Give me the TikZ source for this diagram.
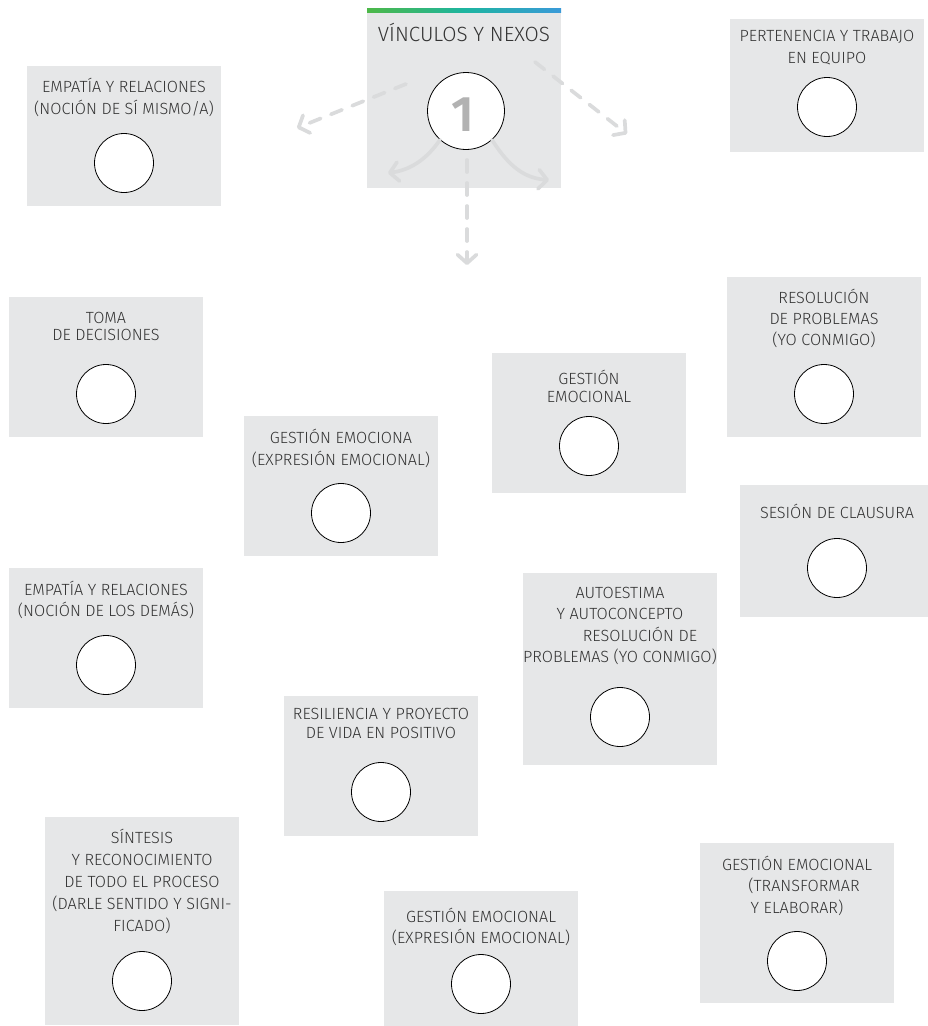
\documentclass[tikz,border=0pt]{standalone}
\usepackage{fontspec}
\setmainfont{Fira Sans}[UprightFont=* Light, BoldFont=* SemiBold]
\usetikzlibrary{arrows.meta,calc}
\definecolor{boxgray}{HTML}{E6E7E8}
\definecolor{txt}{HTML}{333333}
\definecolor{arr}{HTML}{DADBDC}
\definecolor{gGreen}{HTML}{4DB848}
\definecolor{gTeal}{HTML}{1DB5A0}
\definecolor{gBlue}{HTML}{3A9AD9}
\tikzset{
  panel/.style={fill=boxgray, draw=none, inner sep=0pt, anchor=north west, minimum width=194pt},
  lbl/.style={text=txt, align=center, anchor=north, inner sep=0pt, font=\fontsize{16.2}{21.5}\selectfont,
    execute at begin node=\vphantom{Í}},
  dot/.style={circle, draw=black, line width=0.8pt, fill=white, minimum size=59pt, inner sep=0pt},
  arrline/.style={draw=arr, line width=3.7pt, line cap=round, -{Straight Barb[length=8.5pt,width=19pt,line cap=round,line join=round]}},
  dashedarr/.style={arrline, dash pattern=on 12pt off 11pt},
}
\begin{document}
\begin{tikzpicture}[x=1pt,y=-1pt]
\useasboundingbox (0,0) rectangle (928,1026);
% panels
\node[panel, minimum height=176pt] (b0) at (367,12) {};
\shade[left color=gGreen, right color=gBlue, middle color=gTeal] (367,8) rectangle (561,12.5);
\node[panel, minimum height=140pt] (b1) at (27,66) {};
\node[panel, minimum height=133pt] (b2) at (730,19) {};
\node[panel, minimum height=140pt] (b3) at (9,297) {};
\node[panel, minimum height=160pt] (b4) at (727,277) {};
\node[panel, minimum height=140pt] (b5) at (492,353) {};
\node[panel, minimum height=140pt] (b6) at (244,416) {};
\node[panel, minimum height=132pt, minimum width=188pt] (b7) at (740,485) {};
\node[panel, minimum height=140pt] (b8) at (9,568) {};
\node[panel, minimum height=192pt] (b9) at (523,573) {};
\node[panel, minimum height=140pt] (b10) at (284,696) {};
\node[panel, minimum height=208pt] (b11) at (45,817) {};
\node[panel, minimum height=135pt] (b12) at (384,891) {};
\node[panel, minimum height=160pt] (b13) at (700,843) {};
% labels
\node[lbl, font=\fontsize{20.6}{24}\selectfont] (t0) at (464,23) {VÍNCULOS Y NEXOS};
\node[lbl] (t1) at (124,78) {EMPATÍA Y RELACIONES\\(NOCIÓN DE SÍ MISMO/A)};
\node[lbl] (t2) at (827,30.5) {PERTENENCIA Y TRABAJO\\EN EQUIPO};
\node[lbl, font=\fontsize{16.2}{16.5}\selectfont] (t3) at (106,312.5) {TOMA\\DE DECISIONES};
\node[lbl, font=\fontsize{16.2}{21}\selectfont] (t4) at (824,289) {RESOLUCIÓN\\DE PROBLEMAS\\(YO CONMIGO)};
\node[lbl, font=\fontsize{16.2}{18.5}\selectfont] (t5) at (589,369.5) {GESTIÓN\\EMOCIONAL};
\node[lbl, font=\fontsize{16.2}{22}\selectfont] (t6) at (341,428.5) {GESTIÓN EMOCIONA\\(EXPRESIÓN EMOCIONAL)};
\node[lbl] (t7) at (837,504) {SESIÓN DE CLAUSURA};
\node[lbl, font=\fontsize{16.2}{21}\selectfont] (t8) at (106,580.5) {EMPATÍA Y RELACIONES\\(NOCIÓN DE LOS DEMÁS)};
\node[lbl] (t9) at (620,587) {AUTOESTIMA\\Y AUTOCONCEPTO\\\hspace*{40pt}RESOLUCIÓN DE\\PROBLEMAS (YO CONMIGO)};
\node[lbl, font=\fontsize{16.2}{19}\selectfont] (t10) at (381,708.5) {RESILIENCIA Y PROYECTO\\DE VIDA EN POSITIVO};
\node[lbl, font=\fontsize{16.2}{22}\selectfont] (t11) at (142,828.5) {SÍNTESIS\\Y RECONOCIMIENTO\\DE TODO EL PROCESO\\(DARLE SENTIDO Y SIGNI-\\FICADO)};
\node[lbl, font=\fontsize{16.2}{21}\selectfont] (t12) at (481,907.5) {GESTIÓN EMOCIONAL\\(EXPRESIÓN EMOCIONAL)};
\node[lbl] (t13) at (797,855.5) {GESTIÓN EMOCIONAL\\\hspace*{14pt}(TRANSFORMAR\\Y ELABORAR)};
% circles
\node[dot, minimum size=77pt] (c0) at (466,111) {};
\node[text=black!30, font=\fontsize{50}{50}\bfseries\selectfont, inner sep=0pt] (n1) at (463,115) {1};
\node[dot] (c1) at (124,163) {};
\node[dot] (c2) at (827,107) {};
\node[dot] (c3) at (106,394) {};
\node[dot] (c4) at (824,394) {};
\node[dot] (c5) at (589,446) {};
\node[dot] (c6) at (341,513) {};
\node[dot] (c7) at (837,568) {};
\node[dot] (c8) at (106,665) {};
\node[dot] (c9) at (620,717) {};
\node[dot] (c10) at (381,792) {};
\node[dot] (c11) at (142,981) {};
\node[dot] (c12) at (481,984) {};
\node[dot] (c13) at (797,961) {};
% arrows
\coordinate (sL) at (406,84);
\coordinate (eL) at (297,128);
\coordinate (sR) at (535,62);
\coordinate (eR) at (627,134);
\coordinate (sD) at (467,160);
\coordinate (eD) at (467,265);
\coordinate (eCL) at (388,173);
\coordinate (eCR) at (549,180);
\draw[dashedarr] (sL) -- (eL);
\draw[dashedarr] (sR) -- (eR);
\draw[dashedarr] (sD) -- (eD);
\draw[arrline] (c0.-132) .. controls (426,160) and (410,170) .. (eCL);
\draw[arrline] (c0.-48) .. controls (505,160) and (520,178) .. (eCR);
\end{tikzpicture}
\end{document}
